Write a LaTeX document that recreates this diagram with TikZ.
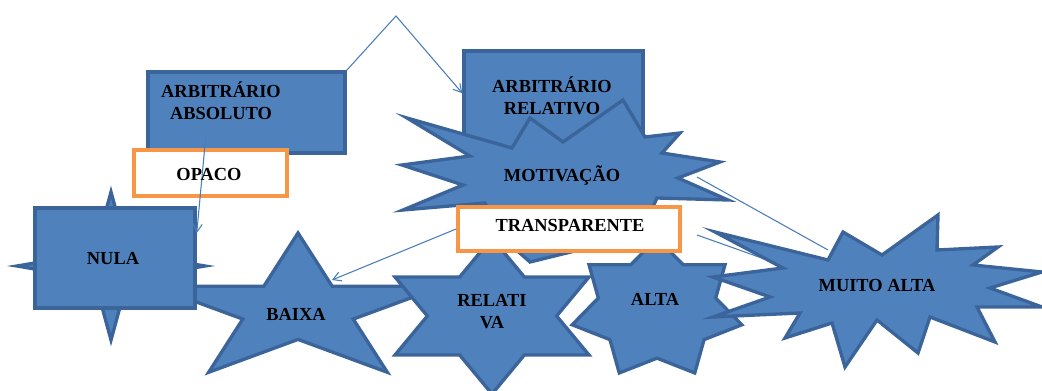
\documentclass[tikz,border=0pt]{standalone}
\usepackage{fontspec}
\setmainfont{Liberation Serif}
\usetikzlibrary{arrows.meta}
\definecolor{shapefill}{HTML}{4F81BD}
\definecolor{shapeline}{HTML}{3A649A}
\definecolor{boxline}{HTML}{F79646}
\definecolor{connline}{HTML}{4A7EBB}
\tikzset{
  blueshape/.style={fill=shapefill, draw=shapeline, line width=2.5pt, line join=miter},
  bluebox/.style={rectangle, fill=shapefill, draw=shapeline, line width=2.6pt, inner sep=0pt},
  orangebox/.style={rectangle, fill=white, draw=boxline, line width=2.8pt, inner sep=0pt},
  lbl/.style={font=\bfseries\fontsize{13.8}{16.5}\selectfont, align=center, inner sep=0pt, text=black},
  conn/.style={draw=connline, line width=0.8pt},
  arr/.style={-{Straight Barb[length=6pt,width=7pt,line width=0.8pt]}},
}
\newcommand\starfig[6]{%
  \pgfmathsetmacro\stang{180/#6}%
  \pgfmathtruncatemacro\stlast{2*#6-1}%
  \filldraw[blueshape] (#1,{#2-#4}) \foreach \k [evaluate=\k as \ang using 90+\k*\stang, evaluate=\k as \rr using 1-(1-#5)*isodd(\k)] in {1,...,\stlast} { -- ({#1+#3*\rr*cos(\ang)},{#2-#4*\rr*sin(\ang)}) } -- cycle;%
}
\begin{document}
\begin{tikzpicture}[x=0.75pt,y=-0.75pt]
\useasboundingbox (0,0) rectangle (1042,391);

% upper boxes
\node[bluebox, minimum width=147.75pt, minimum height=60.75pt] (absbox) at (246.5,112.5) {};
\node[bluebox, minimum width=134.25pt, minimum height=74.25pt] (relbox) at (553.5,100.5) {};
\coordinate (peak) at (396,16);
\draw[conn,arr] (absbox.north east) -- (peak) -- ([yshift=5.5pt]relbox.west);

% MOTIVACAO explosion
\filldraw[blueshape] (407,118) -- (512,148) -- (530,118) -- (563,142) -- (623,100) -- (645,137)
  -- (680,133) -- (662,153) -- (720,162) -- (678,178) -- (728,200) -- (657,198) -- (640,235)
  -- (530,262) -- (505,240) -- (485,203) -- (403,210) -- (463,185) -- (402,165) -- (470,156) -- cycle;

% OPACO
\node[orangebox, minimum width=114.75pt, minimum height=34.5pt] (opacobox) at (210.5,173) {};

% BAIXA (5-point star)
\starfig{298}{310}{152}{77}{0.382}{5}
% NULA (4-point star + rectangle)
\starfig{111}{266}{94}{74}{0.25}{4}
\node[bluebox, minimum width=120pt, minimum height=75pt] (nulbox) at (115,258) {};

% RELATIVA (6-point star)
\starfig{492}{316}{112}{78}{0.577}{6}
% ALTA (7-point star)
\starfig{657}{309}{87}{71}{0.692}{7}

% connectors to MUITO ALTA
\coordinate (motiv-e) at (697,177);
\coordinate (muito-n) at (828,250);
\coordinate (transp-r) at (697,235);
\coordinate (muito-w) at (773,262);
\draw[conn] (motiv-e) -- (muito-n);
\draw[conn] (transp-r) -- (muito-w);

% MUITO ALTA explosion
\filldraw[blueshape] (715,232) -- (828,260) -- (843,232) -- (882,255) -- (938,215) -- (937,250)
  -- (998,247) -- (973,265) -- (1042,272) -- (990,288) -- (1042,307) -- (977,307) -- (995,342)
  -- (930,317) -- (918,353) -- (877,320) -- (845,367) -- (832,323) -- (785,338) -- (800,313)
  -- (713,317) -- (770,297) -- (713,277) -- (783,268) -- cycle;

% TRANSPARENTE
\node[orangebox, minimum width=166.5pt, minimum height=33pt] (transpbox) at (569,229) {};

% remaining connectors
\coordinate (baixa-ne) at (332,280);
\draw[conn,arr] ([xshift=-30.4pt,yshift=15pt]absbox.south) -- ([yshift=18.75pt]nulbox.east);
\draw[conn,arr] (transpbox.west) -- (baixa-ne);

% labels
\node[lbl] (absT) at (221,101) {ARBITRÁRIO\\ABSOLUTO};
\node[lbl] (relT) at (552,96) {ARBITRÁRIO\\RELATIVO};
\node[lbl] (opacoT) at (209,175) {OPACO};
\node[lbl] (motivT) at (562,175) {MOTIVAÇÃO};
\node[lbl] (transpT) at (570,226) {TRANSPARENTE};
\node[lbl] (nulaT) at (113,259) {NULA};
\node[lbl] (baixaT) at (296,314) {BAIXA};
\node[lbl] (relativaT) at (492,312) {RELATI\\VA};
\node[lbl] (altaT) at (655,299) {ALTA};
\node[lbl] (muitoT) at (877,285) {MUITO ALTA};
\end{tikzpicture}
\end{document}
